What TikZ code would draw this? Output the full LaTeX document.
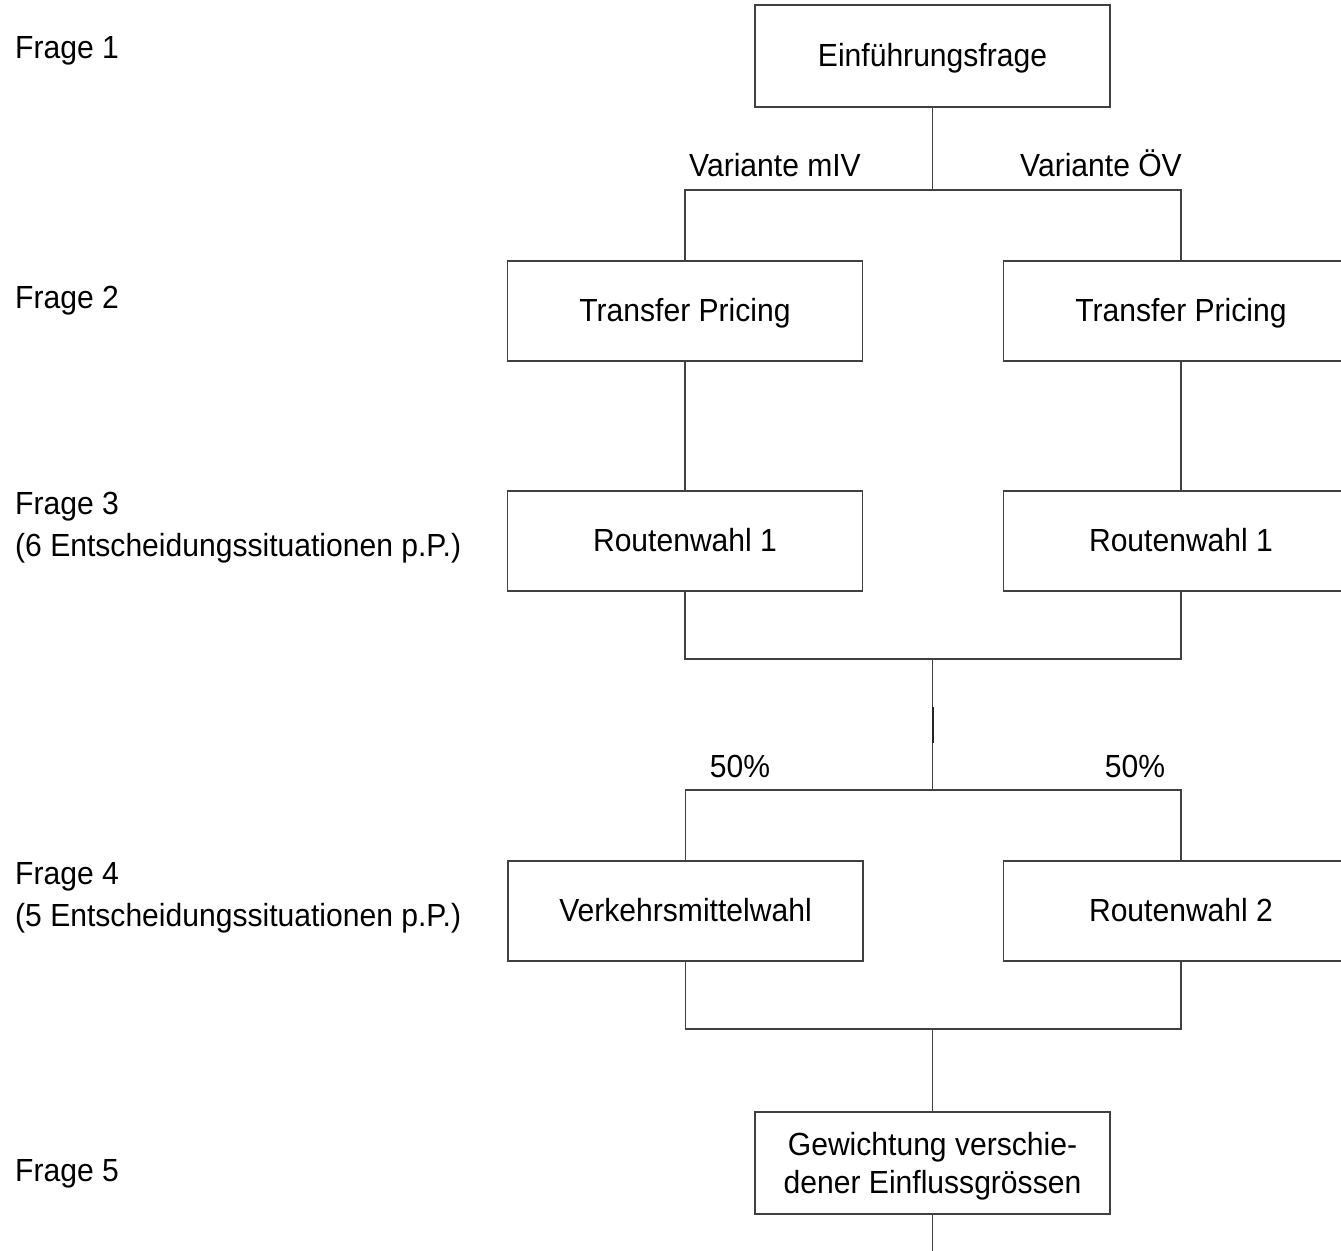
\documentclass[tikz,border=0pt]{standalone}
\usepackage{fontspec}
\setmainfont{Liberation Sans}[FakeStretch=0.94]
\begin{document}
\begin{tikzpicture}[x=1pt,y=-1pt,
  lw/.style={line width=1.2pt, draw=black!75},
  qbox/.style={lw, rectangle, inner sep=0pt, minimum width=355pt, minimum height=100pt, align=center, font=\fontsize{32}{38}\selectfont},
  sbox/.style={qbox, text height=26pt, text depth=5pt},
  lbl/.style={anchor=base west, inner sep=0pt, font=\fontsize{32}{42}\selectfont, align=left},
  clbl/.style={anchor=base, inner sep=0pt, font=\fontsize{32}{36}\selectfont}]
\useasboundingbox (0,0) rectangle (1341,1250);
% boxes
\node[sbox, minimum height=102pt] (q1) at (932.5,56) {Einführungsfrage};
\node[sbox] (tpL) at (685,311) {Transfer Pricing};
\node[sbox] (tpR) at (1181,311) {Transfer Pricing};
\node[sbox] (rwL) at (685,541) {Routenwahl 1};
\node[sbox] (rwR) at (1181,541) {Routenwahl 1};
\node[sbox] (vmw) at (685.5,911) {Verkehrsmittelwahl};
\node[sbox] (rw2) at (1181,911) {Routenwahl 2};
\node[qbox, minimum height=102pt] (gew) at (932.5,1163) {\rule{0pt}{30pt}Gewichtung verschie-\\dener Einflussgrössen};
% junctions
\coordinate (j1) at (932.5,190);
\coordinate (j2) at (932.5,659);
\coordinate (j3) at (932.5,790);
\coordinate (j4) at (932.5,1029);
\coordinate (end) at (932.5,1252);
% connectors
\draw[lw] (q1.south) -- (j1);
\draw[lw] (tpL.north) |- (j1) -| (tpR.north);
\draw[lw] (tpL.south) -- (rwL.north);
\draw[lw] (tpR.south) -- (rwR.north);
\draw[lw] (rwL.south) |- (j2) -| (rwR.south);
\draw[lw] (j2) -- (j3);
\draw[line width=2pt, black!85] (932.5,707) -- (932.5,743);
\draw[lw] (vmw.north) |- (j3) -| (rw2.north);
\draw[lw] (vmw.south) |- (j4) -| (rw2.south);
\draw[lw] (j4) -- (gew.north);
\draw[lw] (gew.south) -- (end);
% branch labels
\node[clbl] (vm) at (775,176) {Variante mIV};
\node[clbl] (vo) at (1101,176) {Variante ÖV};
\node[clbl] (p1) at (740,777) {50\%};
\node[clbl] (p2) at (1135,777) {50\%};
% left labels
\node[lbl] (f1) at (15,58) {Frage 1};
\node[lbl] (f2) at (15,308) {Frage 2};
\node[lbl] (f3) at (15,556) {Frage 3\\(6 Entscheidungssituationen p.P.)};
\node[lbl] (f4) at (15,926) {Frage 4\\(5 Entscheidungssituationen p.P.)};
\node[lbl] (f5) at (15,1181) {Frage 5};
\end{tikzpicture}
\end{document}
